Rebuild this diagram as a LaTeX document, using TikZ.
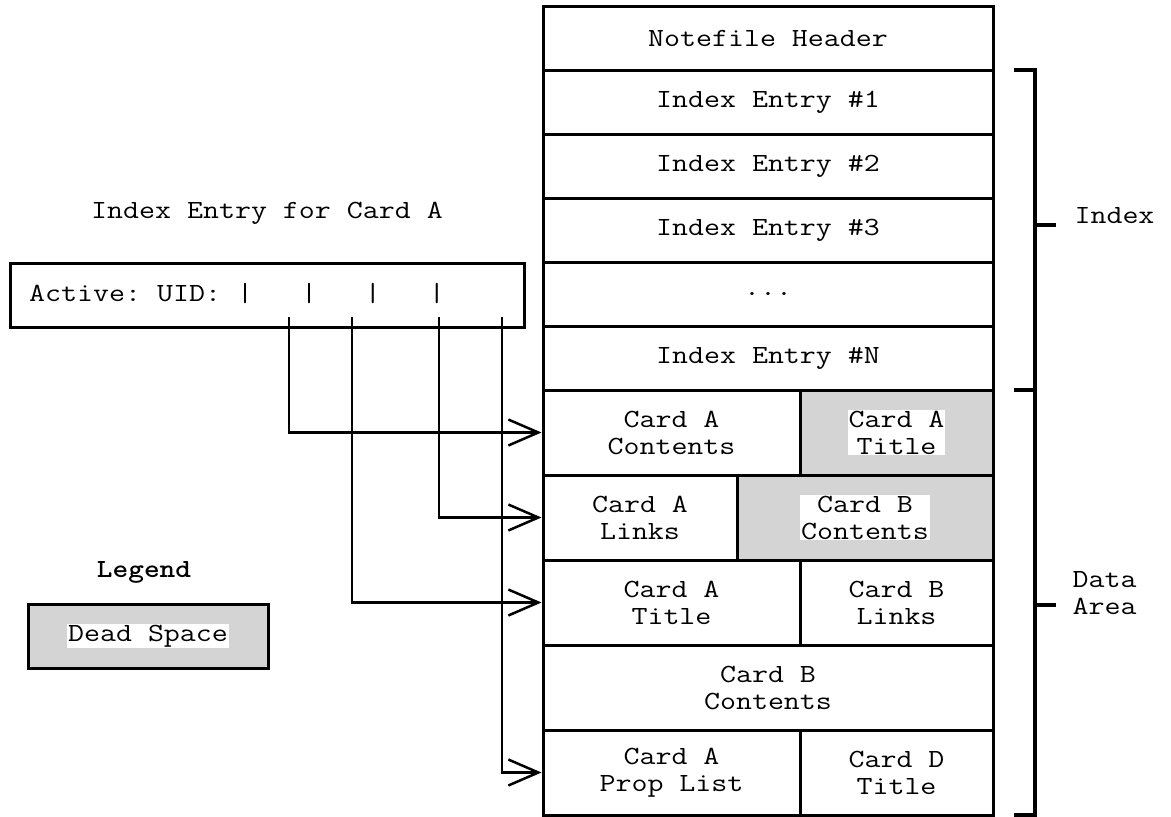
\documentclass[tikz,border=0pt]{standalone}
\usepackage{fontspec}
\setmonofont[FakeStretch=1.185]{Latin Modern Mono}
\newfontfamily\legfont[FakeStretch=1.14]{lmmonolt10-bold.otf}
\usetikzlibrary{arrows.meta}
\definecolor{deadgray}{RGB}{212,212,212}
\begin{document}
\begin{tikzpicture}[x=1pt,y=-1pt,font=\ttfamily\fontsize{26.2}{27}\selectfont]
\tikzstyle{cell}=[draw,line width=3pt,inner sep=0pt,align=center]
\tikzstyle{dead}=[cell,fill=deadgray]
\tikzstyle{wl}=[fill=white,inner sep=1pt,align=center]
\tikzstyle{ptr}=[line width=2.5pt,-{Straight Barb[length=30pt,width=26pt]}]
\tikzstyle{brk}=[line width=4.5pt]
\useasboundingbox (0,0) rectangle (1171,817);

% Notefile header and index
\node[cell,minimum width=450pt,minimum height=64pt] (hdr) at (768,38) {Notefile Header};
\node[cell,minimum width=450pt,minimum height=64pt] (ie1) at (768,102) {Index Entry \#1};
\node[cell,minimum width=450pt,minimum height=64pt] (ie2) at (768,166) {Index Entry \#2};
\node[cell,minimum width=450pt,minimum height=64pt] (ie3) at (768,230) {Index Entry \#3};
\node[cell,minimum width=450pt,minimum height=64pt] (iedots) at (768,294) {...};
\node[cell,minimum width=450pt,minimum height=64pt] (ieN) at (768,358) {Index Entry \#N};

% Data area
\node[cell,minimum width=257pt,minimum height=85pt] (acont) at (671.5,432.5) {Card A\\Contents};
\node[dead,minimum width=193pt,minimum height=85pt] (atitlea) at (896.5,432.5) {};
\node[wl] (atitleat) at (atitlea) {Card A\\Title};
\node[cell,minimum width=194pt,minimum height=85pt] (alinks) at (640,517.5) {Card A\\Links};
\node[dead,minimum width=256pt,minimum height=85pt] (bconta) at (865,517.5) {};
\node[wl] (bcontat) at (bconta) {Card B\\Contents};
\node[cell,minimum width=257pt,minimum height=85pt] (atitleb) at (671.5,602.5) {Card A\\Title};
\node[cell,minimum width=193pt,minimum height=85pt] (blinks) at (896.5,602.5) {Card B\\Links};
\node[cell,minimum width=450pt,minimum height=85pt] (bcontb) at (768,687.5) {Card B\\Contents};
\node[cell,minimum width=257pt,minimum height=85pt] (aprop) at (671.5,772.5) {Card A\\Prop List};
\node[cell,minimum width=193pt,minimum height=85pt] (dtitle) at (896.5,772.5) {Card D\\Title};

% Index entry for card A
\node (entrytitle) at (267,213) {Index Entry for Card A};
\node[cell,minimum width=514pt,minimum height=64pt] (entry) at (267,295) {};
\node[anchor=west,inner sep=0pt] (fields) at (29,293) {Active: UID: |\ \ \ |\ \ \ |\ \ \ |};
\coordinate (fa) at (289,317);
\coordinate (fb) at (352,317);
\coordinate (fc) at (439,317);
\coordinate (fd) at (502,317);
\draw[ptr] (fa) |- (acont.west);
\draw[ptr] (fc) |- (alinks.west);
\draw[ptr] (fb) |- (atitleb.west);
\draw[ptr] (fd) |- (aprop.west);

% Legend
\node (leg) at (144,572) {\legfont Legend};
\node[dead,minimum width=240pt,minimum height=64pt] (legbox) at (148,636) {};
\node[wl] (legtext) at (legbox) {Dead Space};

% Brackets
\draw[brk] (1014,70) -- (1035,70) -- (1035,390) -- (1014,390);
\draw[brk] (1035,225) -- (1056,225);
\draw[brk] (1014,390) -- (1035,390) -- (1035,815) -- (1014,815);
\draw[brk] (1035,605) -- (1056,605);
\node[anchor=west] (idxlbl) at (1071,216) {Index};
\node[anchor=west,align=left] (datalbl) at (1069,593) {Data\\Area};
\end{tikzpicture}
\end{document}
